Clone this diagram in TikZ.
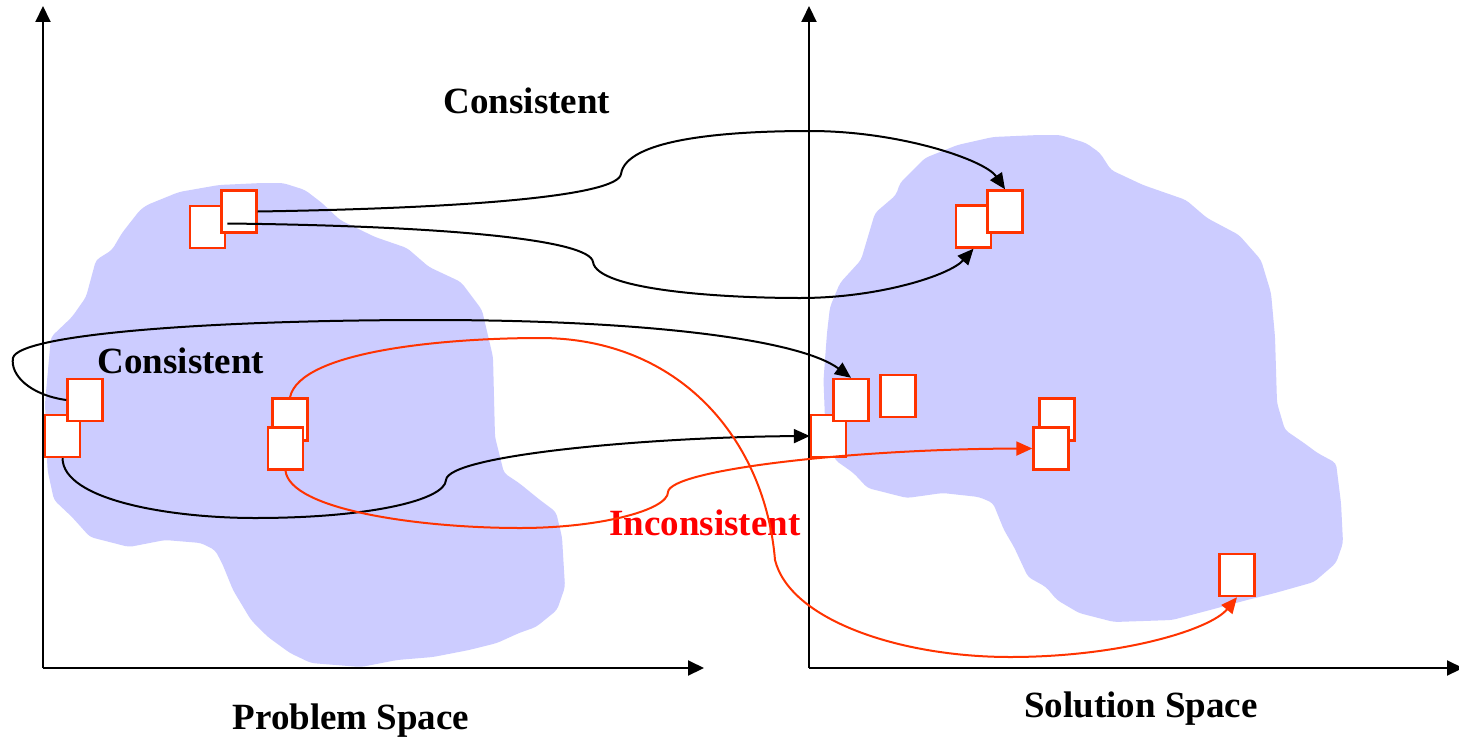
\documentclass[tikz,border=0pt]{standalone}
\usepackage{fontspec}
\setmainfont{Liberation Serif}
\usetikzlibrary{arrows.meta, calc}
\definecolor{blobcolor}{RGB}{204,204,255}
\definecolor{boxcolor}{RGB}{255,51,0}
\definecolor{redtext}{RGB}{255,0,0}

\begin{document}
\begin{tikzpicture}[x=0.5pt, y=-0.5pt,
    elem/.style={rectangle, draw=boxcolor, line width=1.2pt, fill=white, minimum width=17.5pt, minimum height=21pt, inner sep=0pt},
    blob/.style={fill=blobcolor, rounded corners=2pt},
    lbl/.style={font=\fontsize{18.5}{22}\selectfont\bfseries, inner sep=0pt},
    axis/.style={-{Triangle[length=8pt,width=7.5pt]}, line width=1pt},
    arrow/.style={-{Triangle[length=8pt,width=7pt]}, line width=1pt},
    redarrow/.style={arrow, draw=boxcolor}
]
\useasboundingbox[fill=white] (0,0) rectangle (1459,738);

\fill[blob] (147,205) -- (179,192) -- (219,185) -- (262,183) -- (283,183) -- (305,190) -- (322,203)
  -- (340,220) -- (375,237) -- (407,248) -- (429,267) -- (461,282) -- (482,310) -- (493,357)
  -- (495,437) -- (504,473) -- (519,483) -- (540,500) -- (556,512) -- (562,537) -- (565,587)
  -- (557,610) -- (536,627) -- (519,633) -- (497,643) -- (469,650) -- (433,657) -- (397,660)
  -- (361,667) -- (311,663) -- (290,653) -- (268,637) -- (251,620) -- (233,590) -- (222,563)
  -- (215,550) -- (201,543) -- (165,540) -- (129,547) -- (90,537) -- (72,517) -- (54,500)
  -- (47.5,470) -- (45,403) -- (51,337) -- (72,317) -- (86,297) -- (96,260) -- (112,250)
  -- (122,233) -- (140,210) -- cycle;
\fill[blob] (925,158) -- (957.5,145) -- (993,137) -- (1039,135) -- (1060,135) -- (1086,143) -- (1100,153)
  -- (1111,170) -- (1143,185) -- (1186,200) -- (1207,218) -- (1239,235) -- (1261,260) -- (1271,293)
  -- (1275,337) -- (1277,403) -- (1285,430) -- (1304,443) -- (1317.5,453) -- (1336,463) -- (1341,503)
  -- (1343,543) -- (1336,563) -- (1314,582) -- (1275,593) -- (1247,600) -- (1210,610) -- (1172,620)
  -- (1114,622) -- (1079,613) -- (1057,600) -- (1046,587) -- (1028,577) -- (1014,547) -- (1004,530)
  -- (993,503) -- (979,497) -- (942.5,493) -- (907,498) -- (867.5,488) -- (853.5,473) -- (835,460)
  -- (825,420) -- (823.5,380) -- (827,333) -- (830,307) -- (840,283) -- (861,260) -- (875,213)
  -- (896,195) -- (900,183) -- (910,173) -- cycle;

\node[elem] (lt1) at (207.5,227) {};
\node[elem] (lt2) at (239,211.5) {};
\node[elem] (lm1) at (62.5,436) {};
\node[elem] (lm2) at (85,400) {};
\node[elem] (lc1) at (290,419.5) {};
\node[elem] (lc2) at (285.5,448.5) {};
\node[elem] (rt1) at (973.5,226.5) {};
\node[elem] (rt2) at (1005,211.5) {};
\node[elem] (rm1) at (828.5,436) {};
\node[elem] (rm2) at (851,400) {};
\node[elem] (rm3) at (898,396) {};
\node[elem] (rc1) at (1057,419.5) {};
\node[elem] (rc2) at (1051,448.5) {};
\node[elem] (rb) at (1237,575) {};

\coordinate (po) at (43,668);
\coordinate (py) at (43,6);
\coordinate (px) at (704,668);
\coordinate (so) at (809,668);
\coordinate (sy) at (809,6);
\coordinate (sx) at (1463,668);
\draw[axis] (po) -- (py);
\draw[axis] (po) -- (px);
\draw[axis] (so) -- (sy);
\draw[axis] (so) -- (sx);

\node[lbl] (consTop) at (527,101) {Consistent};
\node[lbl] (consLow) at (181,361) {Consistent};
\node[lbl, text=redtext] (incons) at (705,523) {Inconsistent};
\node[lbl] (probLbl) at (351,721) {Problem Space};
\node[lbl] (solLbl) at (1141,709) {Solution Space};

\draw[arrow] (lt2.east) .. controls (480,208) and (618,195) .. (621,174)
  .. controls (626,140) and (720,131) .. (810,131) .. controls (900,131) and (985,160) .. (rt2.north);
\draw[arrow] ([shift={(7,12)}]lt2.west) .. controls (450,226) and (590,240) .. (593,262)
  .. controls (597,290) and (720,298) .. (800,298) .. controls (880,298) and (950,275) .. (rt1.south);
\draw[arrow] (lm2.west) .. controls (30,395) and (10,375) .. (13,358)
  .. controls (18,335) and (200,320) .. (430,320) .. controls (650,320) and (800,340) .. (rm2.north);
\draw[arrow] (lm1.south) .. controls (63,500) and (170,518) .. (255,518)
  .. controls (370,518) and (445,500) .. (446,480) .. controls (448,455) and (650,437) .. (rm1.west);
\draw[redarrow] (lc1.north) .. controls (300,350) and (450,338) .. (540,338)
  .. controls (680,338) and (765,440) .. (775,560) .. controls (790,620) and (900,657) .. (1010,657)
  .. controls (1120,657) and (1210,630) .. (rb.south);
\draw[redarrow] (lc2.south) .. controls (290,510) and (420,528) .. (520,528)
  .. controls (600,528) and (668,510) .. (668,492) .. controls (670,470) and (850,449) .. (rc2.west);
\end{tikzpicture}
\end{document}
